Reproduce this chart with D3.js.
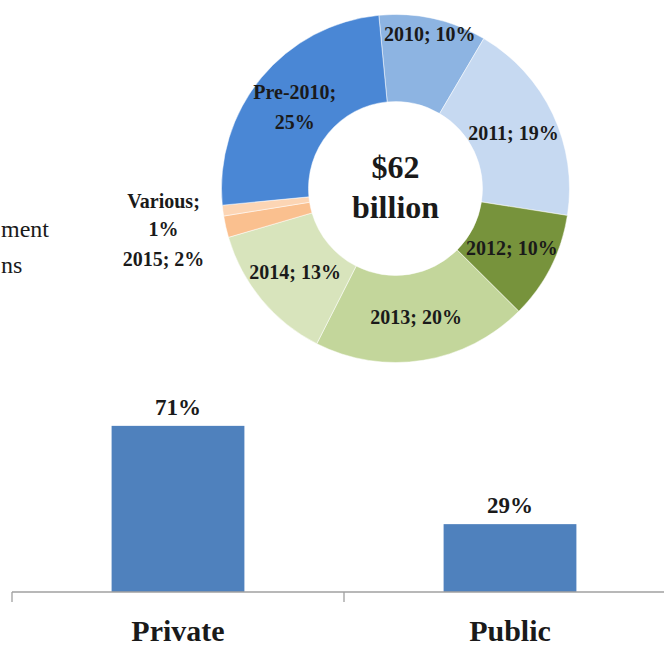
<!DOCTYPE html>
<html>
<head>
<meta charset="utf-8">
<script src="https://cdn.jsdelivr.net/npm/d3@7"></script>
<style>
  html,body{margin:0;padding:0;background:#fff;}
  svg{display:block;}
  text{font-family:"Liberation Serif","Times New Roman",serif;fill:#1a1a1a;}
</style>
</head>
<body>
<div id="chart"></div>
<script>
// donut: investment by year
const yearLabels = ["2010", "2011", "2012", "2013", "2014", "2015", "Various", "Pre-2010"];
const yearShares = [10, 19, 10, 20, 13, 2, 1, 25];
const yearColors = ["#8db4e2", "#c6d9f1", "#77933c", "#c3d69b", "#d8e4bc", "#fac08f", "#fcd5b4", "#4a87d5"];
const centerLines = ["$62", "billion"];
// bars: private vs public
const sectors = ["Private", "Public"];
const sectorShares = [71, 29];
const sideText = ["ment", "ns"];

const W = 664, H = 646;
const svg = d3.select("#chart").append("svg").attr("width", W).attr("height", H);

// ── Donut
const cx = 395.5, cy = 188.5, R = 174, r0 = 87;
const rad = a => a * Math.PI / 180;
const pie = d3.pie().sort(null).value(d => d.v).startAngle(rad(-5.5)).endAngle(rad(354.5));
const arcs = pie(yearLabels.map((k, i) => ({k, v: yearShares[i], c: yearColors[i]})));
const arc = d3.arc().innerRadius(r0).outerRadius(R);
const LF = 20; // label font size

const dg = svg.append("g").attr("transform", `translate(${cx},${cy})`);
dg.selectAll("path").data(arcs).join("path")
  .attr("d", arc).attr("fill", d => d.data.c)
  .attr("stroke", "#fff").attr("stroke-width", 0.5);

// labels on the ring (2010 pushed outward like the original)
const labelR = {"2010": 158};
arcs.filter(d => d.data.k !== "2015" && d.data.k !== "Various").forEach(d => {
  const lr = labelR[d.data.k] || (r0 + R) / 2;
  const [x, y] = d3.arc().innerRadius(lr).outerRadius(lr).centroid(d);
  const t = dg.append("text").attr("x", x).attr("y", y)
    .attr("text-anchor", "middle").attr("font-size", LF).attr("font-weight", "bold");
  if (d.data.k === "Pre-2010") {
    t.append("tspan").attr("x", x).attr("dy", "-0.35em").text(`${d.data.k};`);
    t.append("tspan").attr("x", x).attr("dy", "1.5em").text(`${d.data.v}%`);
  } else {
    t.attr("dy", "0.35em").text(`${d.data.k}; ${d.data.v}%`);
  }
});

// small slices labelled out on the left
const various = arcs.find(d => d.data.k === "Various");
const y2015 = arcs.find(d => d.data.k === "2015");
const ox = -232;
dg.append("text").attr("x", ox).attr("y", 19).attr("text-anchor", "middle")
  .attr("font-size", LF).attr("font-weight", "bold")
  .selectAll("tspan").data([`${various.data.k};`, `${various.data.v}%`]).join("tspan")
  .attr("x", ox).attr("dy", (d, i) => i ? "1.4em" : 0).text(d => d);
dg.append("text").attr("x", ox).attr("y", 77).attr("text-anchor", "middle")
  .attr("font-size", LF).attr("font-weight", "bold")
  .text(`${y2015.data.k}; ${y2015.data.v}%`);

// centre total
dg.append("text").attr("text-anchor", "middle").attr("font-size", 32).attr("font-weight", "bold")
  .selectAll("tspan").data(centerLines).join("tspan")
  .attr("x", 0).attr("y", (d, i) => i ? 29 : -11).text(d => d);

// fragments of text at the left edge
svg.append("g").selectAll("text").data(sideText).join("text")
  .attr("x", 1).attr("y", (d, i) => i ? 273 : 237)
  .attr("font-size", 24).text(d => d);

// ── Bars
const x = d3.scaleBand().domain(sectors).range([12, 676]);
const y = d3.scaleLinear().domain([0, 100]).range([592, 358]);
const bw = x.bandwidth() * 0.4;
const bg = svg.append("g");

bg.selectAll("rect").data(sectors).join("rect")
  .attr("x", d => x(d) + x.bandwidth() / 2 - bw / 2)
  .attr("y", (d, i) => y(sectorShares[i]))
  .attr("width", bw)
  .attr("height", (d, i) => y(0) - y(sectorShares[i]))
  .attr("fill", "#4f81bd");

bg.selectAll(".val").data(sectors).join("text").attr("class", "val")
  .attr("x", d => x(d) + x.bandwidth() / 2)
  .attr("y", (d, i) => y(sectorShares[i]) - 11)
  .attr("text-anchor", "middle").attr("font-size", 23).attr("font-weight", "bold")
  .text((d, i) => sectorShares[i] + "%");

// axis line with ticks at category boundaries
bg.append("line").attr("x1", x.range()[0]).attr("x2", W).attr("y1", y(0)).attr("y2", y(0))
  .attr("stroke", "#a0a0a0").attr("stroke-width", 1.3);
bg.selectAll(".tk").data(sectors).join("line").attr("class", "tk")
  .attr("x1", d => x(d)).attr("x2", d => x(d))
  .attr("y1", y(0)).attr("y2", y(0) + 10)
  .attr("stroke", "#a0a0a0").attr("stroke-width", 1.3);

bg.selectAll(".cat").data(sectors).join("text").attr("class", "cat")
  .attr("x", d => x(d) + x.bandwidth() / 2).attr("y", 641)
  .attr("text-anchor", "middle").attr("font-size", 30).attr("font-weight", "bold")
  .text(d => d);
</script>
</body>
</html>
